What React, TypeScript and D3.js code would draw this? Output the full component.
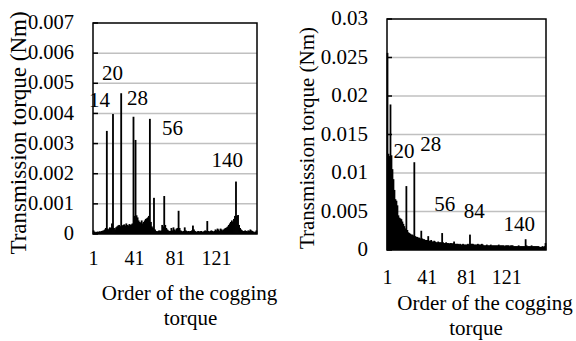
import * as d3 from 'd3'

// orders of the cogging torque harmonics
const orders = d3.range(1, 161)

// left panel, transmission torque (Nm) per order
const leftValues = [
  0.00012, 0.00008, 0.00006, 0.00007, 0.00008, 0.00007, 0.00009, 0.00008, 0.0001, 0.00011,
  0.00012, 0.00015, 0.0002, 0.00342, 0.00018, 0.00015, 0.00022, 0.0002, 0.00035, 0.00398,
  0.0002, 0.00015, 0.00022, 0.00025, 0.00028, 0.0003, 0.00026, 0.00467, 0.00028, 0.0003,
  0.00032, 0.00028, 0.00035, 0.0003, 0.00028, 0.00033, 0.0003, 0.00032, 0.00035, 0.00389,
  0.0006, 0.00312, 0.00062, 0.00055, 0.00045, 0.0004, 0.00038, 0.00045, 0.00035, 0.0004,
  0.00045, 0.0005, 0.00052, 0.00055, 0.0006, 0.00382, 0.0004, 0.00025, 0.0002, 0.0012,
  0.00015, 0.0001, 0.00008, 0.0001, 0.00012, 0.0001, 0.00012, 0.0003, 0.00025, 0.00126,
  0.0003, 0.0002, 0.00015, 0.00012, 0.0001, 0.0001, 0.0002, 0.00012, 0.00022, 0.00015,
  0.00012, 0.00018, 0.0002, 0.00077, 0.0002, 0.00012, 0.0001, 0.00008, 0.0001, 0.00022,
  0.00012, 0.0001, 0.00008, 0.0001, 0.00008, 0.0001, 0.00012, 0.00028, 0.00015, 0.0001,
  0.00008, 0.00007, 0.0001, 0.00008, 0.00009, 0.0001, 0.00008, 0.00007, 0.0001, 0.00012,
  0.0001, 0.00043, 0.0001, 0.00008, 0.0001, 0.00012, 0.0001, 0.00008, 0.0001, 0.00015,
  0.00012, 0.00018, 0.00015, 0.0001, 0.00018, 0.00015, 0.00012, 0.00015, 0.00018, 0.0002,
  0.00022, 0.00025, 0.0003, 0.00035, 0.0004, 0.00045, 0.0004, 0.0005, 0.0006, 0.00174,
  0.0006, 0.00063, 0.0003, 0.0002, 0.00015, 0.00012, 0.0001, 0.0001, 0.00012, 0.0001,
  0.00009, 0.00012, 0.0001, 0.00015, 0.00012, 0.0001, 0.00008, 0.00006, 0.00008, 0.00012,
]

// right panel
const rightValues = [
  0.0256, 0.0125, 0.0122, 0.0189, 0.0123, 0.0105, 0.0092, 0.0078, 0.0066, 0.0064,
  0.0058, 0.0045, 0.0042, 0.0041, 0.0040, 0.0037, 0.0034, 0.0031, 0.0028, 0.0083,
  0.0026, 0.0023, 0.0022, 0.0021, 0.0020, 0.0020, 0.0019, 0.0114, 0.0018, 0.0017,
  0.0017, 0.0016, 0.0016, 0.0015, 0.0025, 0.0015, 0.0014, 0.0014, 0.0013, 0.0013,
  0.0013, 0.0018, 0.0012, 0.0012, 0.0013, 0.0011, 0.0011, 0.0012, 0.0011, 0.0010,
  0.0010, 0.0011, 0.0010, 0.0010, 0.0010, 0.0022, 0.0010, 0.0009, 0.0009, 0.0010,
  0.0009, 0.0009, 0.0008, 0.0009, 0.0009, 0.0008, 0.0009, 0.0011, 0.0008, 0.0008,
  0.0008, 0.0008, 0.0007, 0.0008, 0.0007, 0.0007, 0.0008, 0.0007, 0.0007, 0.0007,
  0.0007, 0.0008, 0.0007, 0.0020, 0.0008, 0.0008, 0.0008, 0.0007, 0.0007, 0.0007,
  0.0007, 0.0008, 0.0007, 0.0007, 0.0007, 0.0008, 0.0007, 0.0006, 0.0006, 0.0006,
  0.0007, 0.0006, 0.0006, 0.0006, 0.0007, 0.0006, 0.0006, 0.0006, 0.0006, 0.0006,
  0.0006, 0.0006, 0.0007, 0.0006, 0.0006, 0.0006, 0.0006, 0.0006, 0.0005, 0.0006,
  0.0006, 0.0006, 0.0006, 0.0005, 0.0006, 0.0006, 0.0006, 0.0005, 0.0005, 0.0005,
  0.0005, 0.0005, 0.0006, 0.0005, 0.0005, 0.0005, 0.0005, 0.0005, 0.0005, 0.0014,
  0.0006, 0.0005, 0.0005, 0.0005, 0.0005, 0.0006, 0.0005, 0.0005, 0.0005, 0.0005,
  0.0005, 0.0005, 0.0005, 0.0004, 0.0004, 0.0004, 0.0005, 0.0004, 0.0005, 0.0009,
]

const leftTicks = [0, 0.001, 0.002, 0.003, 0.004, 0.005, 0.006, 0.007]
const rightTicks = [0, 0.005, 0.01, 0.015, 0.02, 0.025, 0.03]
const xTickOrders = [1, 41, 81, 121]

const leftNotes = [
  { text: '14', order: 6.4, value: 0.00445 },
  { text: '20', order: 19, value: 0.00534 },
  { text: '28', order: 43.4, value: 0.00451 },
  { text: '56', order: 77.6, value: 0.00352 },
  { text: '140', order: 131, value: 0.00246 },
]
const rightNotes = [
  { text: '20', order: 17, value: 0.01296 },
  { text: '28', order: 44, value: 0.01387 },
  { text: '56', order: 58, value: 0.00605 },
  { text: '84', order: 87.7, value: 0.00514 },
  { text: '140', order: 133, value: 0.00345 },
]

const FF = 'Liberation Serif'

type Layout = {
  box: { left: number; right: number; top: number; bottom: number }
  tickSize: number
  yTitle: { x: number; y: number; size: number }
  xTickY: number
  xTitle: { x1: number; x2: number; y: number }
}

type PanelProps = Layout & {
  values: number[]
  ticks: number[]
  notes: { text: string; order: number; value: number }[]
}

function Label(props: { x?: number; y?: number; transform?: string; anchor?: string; size?: number; children: any }) {
  return (
    <text
      x={props.x}
      y={props.y}
      transform={props.transform}
      dy="0.35em"
      textAnchor={props.anchor ?? 'middle'}
      fontFamily={FF}
      fontSize={props.size ?? 21}
      fill="#000"
    >
      {props.children}
    </text>
  )
}

function Panel({ values, ticks, notes, box, tickSize, yTitle, xTickY, xTitle }: PanelProps) {
  const x = d3.scaleBand<number>().domain(orders).range([box.left, box.right]).padding(0)
  const xNum = d3.scaleLinear().domain([0, orders.length]).range([box.left, box.right])
  const y = d3.scaleLinear().domain([0, ticks[ticks.length - 1]]).range([box.bottom, box.top])
  const fmt = (v: number) => (v === 0 ? '0' : String(+v.toFixed(4)))
  const bw = x.bandwidth()

  return (
    <g>
      {ticks.slice(1, -1).map(t => (
        <line key={t} x1={box.left} x2={box.right} y1={y(t)} y2={y(t)} stroke="#c0c0c0" strokeWidth={1.5} />
      ))}
      {values.map((v, i) => (
        <rect
          key={i}
          x={x(orders[i])! - 0.4}
          width={bw + 0.8}
          y={y(v)}
          height={box.bottom - y(v)}
          fill="#000"
        />
      ))}
      <rect x={box.left} y={box.top} width={box.right - box.left} height={box.bottom - box.top} fill="none" stroke="#000" strokeWidth={1.5} />
      {ticks.map(t => (
        <g key={t}>
          <line x1={box.left} x2={box.left + 5} y1={y(t)} y2={y(t)} stroke="#000" strokeWidth={1.5} />
          <Label x={box.left - 19} y={y(t) - 1} anchor="end" size={tickSize}>{fmt(t)}</Label>
        </g>
      ))}
      {xTickOrders.map(o => (
        <Label key={o} x={x(o)! + bw / 2} y={xTickY} size={20}>{o}</Label>
      ))}
      {notes.map(n => (
        <Label key={n.text} x={xNum(n.order)} y={y(n.value)}>{n.text}</Label>
      ))}
      <Label transform={`translate(${yTitle.x},${yTitle.y}) rotate(-90)`} size={yTitle.size}>Transmission torque (Nm)</Label>
      <Label x={xTitle.x1} y={xTitle.y}>Order of the cogging</Label>
      <Label x={xTitle.x2} y={xTitle.y + 25}>torque</Label>
    </g>
  )
}

export default function App() {
  return (
    <svg width={576} height={341} style={{ position: 'absolute', left: 0, top: 0, background: '#fff' }}>
      <Panel
        values={leftValues}
        ticks={leftTicks}
        notes={leftNotes}
        box={{ left: 93, right: 257, top: 23, bottom: 234 }}
        tickSize={20.5}
        yTitle={{ x: 18, y: 133, size: 23 }}
        xTickY={258}
        xTitle={{ x1: 189.5, x2: 190.5, y: 293 }}
      />
      <Panel
        values={rightValues}
        ticks={rightTicks}
        notes={rightNotes}
        box={{ left: 387, right: 546, top: 19, bottom: 250 }}
        tickSize={21}
        yTitle={{ x: 307, y: 138, size: 21 }}
        xTickY={277}
        xTitle={{ x1: 485, x2: 476, y: 303 }}
      />
    </svg>
  )
}
